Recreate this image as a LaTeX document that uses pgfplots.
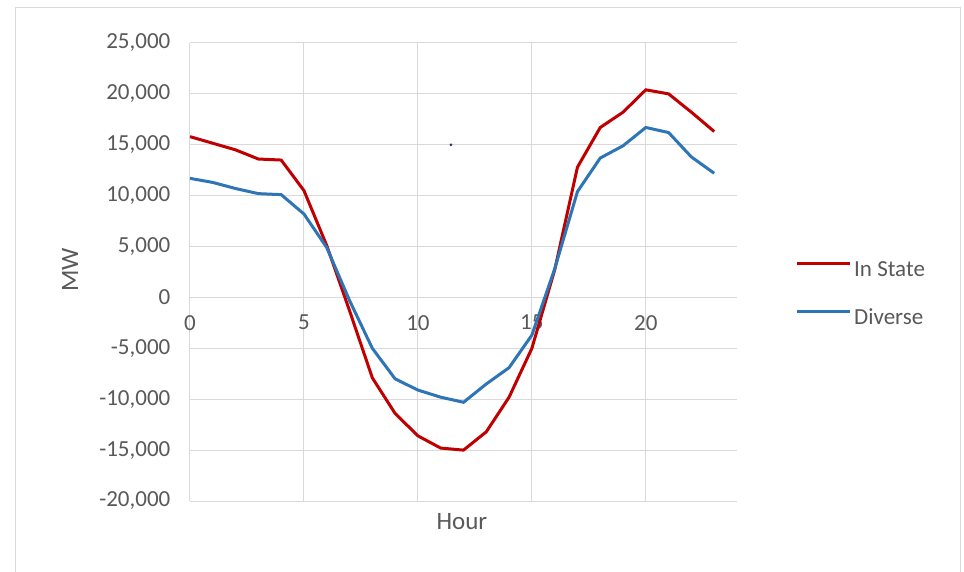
\documentclass[border=0pt]{standalone}
\usepackage{fontspec}
\setmainfont{Carlito}
\usepackage{pgfplots}
\pgfplotsset{compat=1.18}
\definecolor{instate}{RGB}{192,0,0}
\definecolor{diverse}{RGB}{46,117,182}
\definecolor{gridc}{RGB}{217,217,217}
\definecolor{txt}{RGB}{89,89,89}
\begin{document}
\begin{tikzpicture}[x=1pt,y=1pt]
\useasboundingbox (0,0) rectangle (964,-572);
\fill[white] (0,0) rectangle (964,-572);
\draw[gridc, line width=1pt] (15,-580) -- (15,-8) -- (960,-8) -- (960,-580);
\begin{axis}[
  at={(190pt,-501pt)}, anchor=south west, scale only axis,
  width=547pt, height=458pt,
  xmin=0, xmax=24, ymin=-20000, ymax=25000,
  xtick={0,5,10,15,20},
  ytick={-20000,-15000,-10000,-5000,0,5000,10000,15000,20000,25000},
  axis x line=middle, axis y line=left,
  hide obscured x ticks=false, hide obscured y ticks=false,
  axis line style={draw=none}, tick style={draw=none},
  xmajorgrids, ymajorgrids,
  major grid style={gridc, line width=1pt},
  scaled y ticks=false,
  /pgf/number format/assume math mode=true,
  /pgf/number format/1000 sep={,},
  tick label style={font=\fontsize{23}{27}\selectfont, text=txt},
  xticklabel style={anchor=north, yshift=-12pt},
  yticklabel style={anchor=east, xshift=-14pt},
  xlabel={Hour}, ylabel={MW},
  label style={font=\fontsize{25}{29}\selectfont, text=txt},
  xlabel style={at={(axis description cs:0.497,0)}, anchor=center, yshift=-21pt},
  ylabel style={at={(axis description cs:-0.219,0.504)}, anchor=center, rotate=0},
  legend cell align=left,
  legend style={at={(1.106,0.5253)}, anchor=north west, draw=none, fill=none,
    inner sep=0pt, font=\fontsize{23}{27}\selectfont, text=txt,
    nodes={inner sep=0pt, text height=16pt, text depth=4pt},
    row sep=28pt, column sep=3pt},
  legend image code/.code={\draw[#1, line width=3pt] (0pt,7pt) -- (53pt,7pt);},
]
\addplot[instate, line width=3pt] coordinates {
(0,15800) (1,15150) (2,14500) (3,13600) (4,13500) (5,10500) (6,5100) (7,-1300)
(8,-7900) (9,-11400) (10,-13600) (11,-14800) (12,-15000) (13,-13200) (14,-9800)
(15,-5000) (16,2700) (17,12800) (18,16700) (19,18200) (20,20400) (21,20000)
(22,18200) (23,16300)};
\addlegendentry{In State}
\addplot[diverse, line width=3pt] coordinates {
(0,11700) (1,11300) (2,10700) (3,10200) (4,10100) (5,8200) (6,4900) (7,-300)
(8,-5000) (9,-8000) (10,-9100) (11,-9800) (12,-10300) (13,-8500) (14,-6900)
(15,-3700) (16,2800) (17,10400) (18,13700) (19,14900) (20,16700) (21,16200)
(22,13800) (23,12200)};
\addlegendentry{Diverse}
\addplot[only marks, mark=*, mark size=1.2pt, color={rgb,255:red,31;green,56;blue,100}, forget plot] coordinates {(11.45,15000)};
\end{axis}
\end{tikzpicture}
\end{document}
